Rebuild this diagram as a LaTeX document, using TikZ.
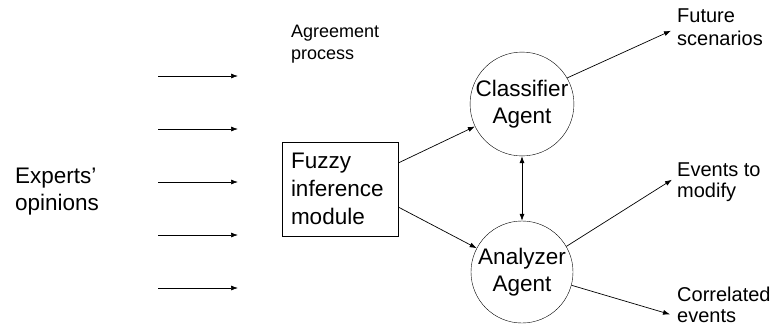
\documentclass[tikz,border=0pt]{standalone}
\usepackage{fontspec}
\setmainfont{Liberation Sans}
\usetikzlibrary{arrows.meta}
\tikzstyle{agent} = [circle, draw, minimum size=102pt, inner sep=0pt, align=center, font=\fontsize{22.5}{27}\selectfont]
\tikzstyle{module} = [rectangle, draw, text width=98pt, inner xsep=9pt, minimum height=94pt, align=left, font=\fontsize{22.5}{28}\selectfont]
\tikzstyle{label} = [inner sep=0pt, anchor=base west, align=left, font=\fontsize{20}{22}\selectfont]
\tikzstyle{flow} = [-{Latex[length=7pt,width=5pt]}, line width=0.7pt]

\begin{document}
\begin{tikzpicture}[x=1pt, y=-1pt]
    \useasboundingbox (0,0) rectangle (773,325);
    % labels sit on the baseline of their last line
    \node[label, font=\fontsize{22.5}{27}\selectfont] (experts) at (15,210) {Experts’\\opinions};
    \node[label, font=\fontsize{18}{22}\selectfont] (agree) at (291,59) {Agreement\\process};
    \node[module] (fuzzy) at (340,189) {Fuzzy\\inference\\module};
    \node[agent] (classifier) at (522,104) {Classifier\\Agent};
    \node[agent] (analyzer) at (522,272) {Analyzer\\Agent};
    \node[label, font=\fontsize{20}{23}\selectfont] (future) at (677,45) {Future\\scenarios};
    \node[label, font=\fontsize{20}{21}\selectfont] (events) at (677,197) {Events to\\modify};
    \node[label, font=\fontsize{20}{21}\selectfont] (correl) at (677,322) {Correlated\\events};
    % one arrow per expert opinion
    \foreach \i/\y in {1/76, 2/129, 3/182, 4/235, 5/288} {
        \coordinate (in\i) at (158,\y);
        \coordinate (out\i) at (238,\y);
        \draw[flow] (in\i) -- (out\i);
    }
    \draw[flow] ([yshift=26pt]fuzzy.east) -- (classifier);
    \draw[flow] ([yshift=-18pt]fuzzy.east) -- (analyzer);
    \draw[flow, {Latex[length=7pt,width=5pt]}-{Latex[length=7pt,width=5pt]}] (classifier) -- (analyzer);
    \draw[flow] (classifier.30) -- ([xshift=-6pt,yshift=-4pt]future.west);
    \draw[flow] (analyzer.30) -- ([xshift=-5pt,yshift=2pt]events.west);
    \draw[flow] (analyzer.-15) -- ([xshift=-7pt,yshift=-10pt]correl.west);
\end{tikzpicture}
\end{document}
